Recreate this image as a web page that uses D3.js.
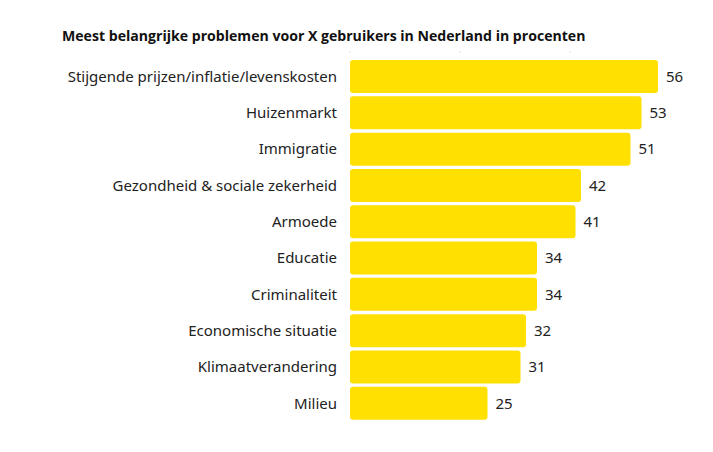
<!DOCTYPE html>
<html><head><meta charset="utf-8">
<script src="https://cdn.jsdelivr.net/npm/d3@7"></script>
<style>body{margin:0;background:#fff;} svg{display:block;}</style>
</head><body>
<svg id="chart" width="713" height="452"></svg>
<script>
const categories = ["Stijgende prijzen/inflatie/levenskosten","Huizenmarkt","Immigratie","Gezondheid & sociale zekerheid","Armoede","Educatie","Criminaliteit","Economische situatie","Klimaatverandering","Milieu"];
const values = [56,53,51,42,41,34,34,32,31,25];
const gridTicks = [0,20,40];
const title = "Meest belangrijke problemen voor X gebruikers in Nederland in procenten";

const svg = d3.select("#chart");
const x = d3.scaleLinear().domain([0,56]).range([350,658]);
const y = d3.scaleBand().domain(categories).range([58.4,421.4]).paddingInner(0.09).paddingOuter(0.045);

svg.append("text").attr("x",62).attr("y",41)
  .attr("font-family","'Open Sans', sans-serif").attr("font-weight",700).attr("font-size",14.1)
  .attr("fill","#111").text(title);

svg.selectAll("circle.tick").data(gridTicks).join("circle")
  .attr("cx",d=>x(d)).attr("cy",52).attr("r",0.8).attr("fill","#ddd");

const data = categories.map((c,i)=>({c,v:values[i]}));
svg.selectAll("rect.bar").data(data).join("rect").attr("class","bar")
  .attr("x",x(0)).attr("y",d=>y(d.c)).attr("width",d=>x(d.v)-x(0)).attr("height",y.bandwidth())
  .attr("rx",3).attr("fill","#FFE000");

const font = "'Noto Sans', sans-serif";
svg.selectAll("text.cat").data(data).join("text").attr("class","cat")
  .attr("x",337).attr("y",d=>y(d.c)+y.bandwidth()/2).attr("dy","0.35em")
  .attr("text-anchor","end").attr("font-family",font).attr("font-size",15).attr("fill","#222")
  .text(d=>d.c);

svg.selectAll("text.val").data(data).join("text").attr("class","val")
  .attr("x",d=>x(d.v)+8).attr("y",d=>y(d.c)+y.bandwidth()/2).attr("dy","0.35em")
  .attr("font-family",font).attr("font-size",15).attr("fill","#222")
  .text(d=>d.v);
</script>
</body></html>
